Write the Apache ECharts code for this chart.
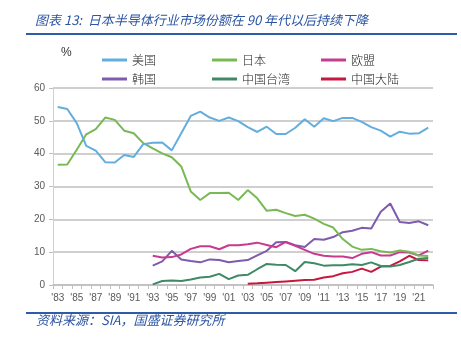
<!DOCTYPE html>
<html><head><meta charset="utf-8">
<script src="https://cdn.jsdelivr.net/npm/echarts@6/dist/echarts.min.js"></script>
<style>html,body{margin:0;padding:0;background:#fff}#c{width:461px;height:343px}</style>
</head><body><div id="c"></div>
<script>
var years = ["'83","'84","'85","'86","'87","'88","'89","'90","'91","'92","'93","'94","'95","'96","'97","'98","'99","'00","'01","'02","'03","'04","'05","'06","'07","'08","'09","'10","'11","'12","'13","'14","'15","'16","'17","'18","'19","'20","'21","'22"];
var usa = [54.2,53.6,49.3,42.4,40.9,37.4,37.3,39.6,39.0,42.9,
  43.3,43.4,41.0,46.2,51.5,52.8,51.0,50.0,51.0,49.9,
  48.1,46.6,48.2,46.0,46.0,47.9,50.5,48.2,50.8,49.9,
  50.9,50.9,49.7,48.1,47.0,45.2,46.7,46.1,46.2,47.9];
var japan = [36.6,36.7,41.2,45.9,47.5,51.0,50.3,47.0,46.2,43.2,
  41.6,40.1,38.9,36.1,28.5,25.9,28.0,28.0,28.1,25.9,
  28.9,26.4,22.6,22.9,21.9,21.0,21.4,20.2,18.6,17.5,
  14.0,11.7,10.7,11.0,10.3,9.9,10.5,10.1,9.0,8.8];
var pre10 = [null,null,null,null,null,null,null,null,null,null];
var europe = pre10.concat([8.9,8.4,8.5,9.3,11.0,11.8,11.8,10.9,12.1,12.1,
  12.4,12.9,12.2,11.5,13.1,11.9,10.7,9.5,8.9,8.7,
  8.7,8.2,9.5,10.0,9.0,9.0,10.0,9.9,9.0,10.5]);
var korea = pre10.concat([5.9,7.2,10.4,7.8,7.3,6.9,7.8,7.6,6.9,7.3,
  7.6,9.0,10.4,13.0,13.1,12.1,11.6,14.0,13.8,14.6,
  16.1,16.5,17.4,17.2,22.3,24.8,19.2,18.9,19.4,18.2]);
var taiwan = pre10.concat([0.2,1.2,1.4,1.2,1.7,2.3,2.5,3.4,1.8,2.9,
  3.1,4.8,6.4,6.2,6.1,4.2,7.0,6.6,5.9,6.0,
  6.0,6.3,6.1,6.9,5.8,5.6,6.1,7.0,8.0,8.2]);
var china = pre10.concat(pre10).concat([0.4,0.5,0.7,0.9,1.1,1.3,1.5,1.6,2.3,2.7,
  3.6,4.0,5.0,4.0,5.6,5.8,7.2,8.9,7.6,7.5]);
var names = ['美国','日本','欧盟','韩国','中国台湾','中国大陆'];
var colors = ['#63AEDD','#78B954','#C73B8E','#7D5BAE','#3F8A64','#C8173F'];
var datas = [usa, japan, europe, korea, taiwan, china];

var chart = echarts.init(document.getElementById('c'), null, {renderer:'canvas'});
var series = names.map(function(n,i){
  return {name:n, type:'line', data:datas[i], showSymbol:false, symbol:'none',
    lineStyle:{width:2, color:colors[i]}, itemStyle:{color:colors[i]}, connectNulls:false, z:10-i};
});
var legendBase = {orient:'vertical', top:49, itemWidth:25, itemHeight:3, icon:'rect', itemGap:7,
  textStyle:{fontSize:12, color:'#222', fontFamily:'Noto Sans CJK SC', fontWeight:300, padding:[0,0,0,0]}};
function lg(left, data){ var o = JSON.parse(JSON.stringify(legendBase)); o.left = left; o.data = data; return o; }
chart.setOption({
  animation:false,
  grid:{left:53, right:28, top:88, bottom:58},
  legend:[lg(97,['美国','韩国']), lg(207,['日本','中国台湾']), lg(316,['欧盟','中国大陆'])],
  graphic:[
    {type:'text', left:35, top:14, style:{text:'图表 13:  日本半导体行业市场份额在 90 年代以后持续下降', fill:'#2C55A2', font:'italic 13px "Noto Sans CJK SC"'}},
    {type:'rect', shape:{x:26, y:33, width:431, height:2}, style:{fill:'#2E5DA8'}},
    {type:'rect', shape:{x:26, y:312, width:431, height:2}, style:{fill:'#2E5DA8'}},
    {type:'text', left:36, top:314, style:{text:'资料来源：SIA，国盛证券研究所', fill:'#2C55A2', font:'italic 13px "Noto Sans CJK SC"'}},
    {type:'text', left:61, top:47, style:{text:'%', fill:'#333', font:'12px "Liberation Sans"'}}
  ],
  xAxis:{type:'category', data:years, boundaryGap:true,
    axisLine:{lineStyle:{color:'#BFBFBF', width:1.5}},
    axisTick:{show:true, interval:0, length:4, lineStyle:{color:'#BFBFBF'}},
    axisLabel:{interval:1, color:'#595959', fontSize:10, margin:8, fontFamily:'Liberation Sans Narrow, Liberation Sans'}},
  yAxis:{type:'value', min:0, max:60, interval:10,
    axisLine:{show:true, lineStyle:{color:'#D0D0D0', width:1}},
    axisTick:{show:true, length:4, lineStyle:{color:'#BFBFBF'}},
    splitLine:{lineStyle:{color:'#BFBFBF', width:1.5}},
    axisLabel:{color:'#595959', fontSize:10, margin:8, fontFamily:'Liberation Sans Narrow, Liberation Sans'}},
  series:series
});
</script></body></html>
